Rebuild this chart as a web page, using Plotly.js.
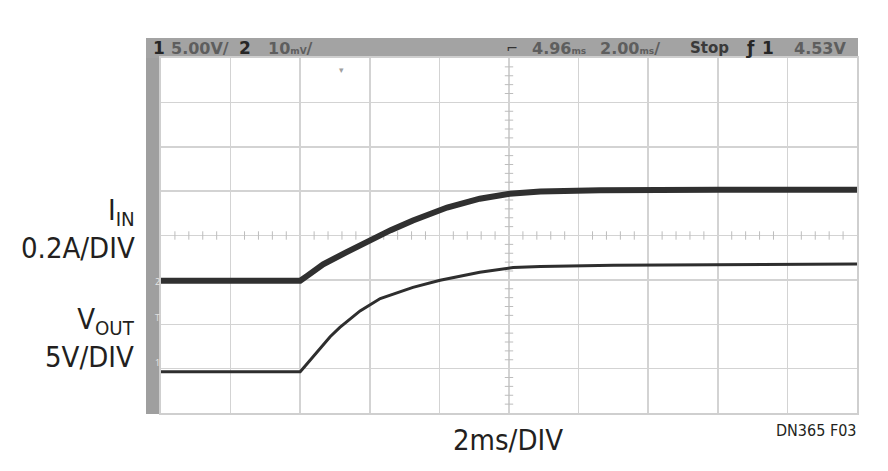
<!DOCTYPE html>
<html><head><meta charset="utf-8">
<script src="https://cdn.plot.ly/plotly-3.0.1.min.js"></script>
<style>html,body{margin:0;padding:0;background:#fff}#chart{width:888px;height:471px}</style>
</head><body><div id="chart"></div>
<script>
// time in divisions (2ms/DIV), values in vertical divisions from bottom of screen
const timeIin = [0, 2.00, 2.10, 2.20, 2.33, 2.66, 3.00, 3.30, 3.62, 4.11, 4.58, 5.01, 5.45, 6.31, 8.00, 10.00];
const iinDiv  = [2.98, 2.98, 3.09, 3.20, 3.35, 3.62, 3.89, 4.12, 4.34, 4.63, 4.83, 4.94, 4.99, 5.02, 5.03, 5.03];
const timeVout = [0, 2.00, 2.05, 2.14, 2.28, 2.43, 2.57, 2.86, 3.15, 3.62, 4.01, 4.58, 5.06, 5.45, 6.50, 8.00, 10.00];
const voutDiv  = [0.93, 0.93, 1.02, 1.19, 1.46, 1.72, 1.93, 2.30, 2.58, 2.83, 2.99, 3.17, 3.28, 3.30, 3.33, 3.35, 3.36];
const iinLabel = ["I<sub>IN</sub>", "0.2A/DIV"];
const voutLabel = ["V<sub>OUT</sub>", "5V/DIV"];
const xLabel = "2ms/DIV";
const figId = "DN365 F03";

const L = 161, R = 857, T = 58, B = 413;
const px = x => (x - L) / (R - L);
const py = y => (B - y) / (B - T);

// center-line minor tick positions (graticule decoration)
const hTickX = [], hTickY = [], vTickX = [], vTickY = [];
for (let k = 1; k < 50; k++) { if (k % 5) { hTickX.push(k * 0.2); hTickY.push(4); } }
for (let k = 1; k < 40; k++) { if (k % 5) { vTickY.push(k * 0.2); vTickX.push(5); } }

const FAM = "DejaVu Sans Condensed, Liberation Sans Narrow, sans-serif";
const labelFont = {family: FAM, size: 29, color: "#231f20"};
const hdrFont = {family: "DejaVu Sans, sans-serif", size: 16, color: "#5e5e5e", weight: "bold"};
const hdrBold = {family: "DejaVu Sans, sans-serif", size: 17, color: "#262626", weight: "bold"};

const traces = [
  {x: hTickX, y: hTickY, mode: "markers", hoverinfo: "skip",
   marker: {symbol: "line-ns", size: 6, line: {width: 1, color: "#bdbdbd"}}},
  {x: vTickX, y: vTickY, mode: "markers", hoverinfo: "skip",
   marker: {symbol: "line-ew", size: 6, line: {width: 1, color: "#bdbdbd"}}},
  {x: timeIin, y: iinDiv, mode: "lines", line: {color: "#303030", width: 6}},
  {x: timeVout, y: voutDiv, mode: "lines", line: {color: "#2e2e2e", width: 3}}
];

function hdr(text, x, font) {
  return {text: text, xref: "paper", yref: "paper", x: px(x), y: py(48), xanchor: "left", yanchor: "middle", showarrow: false, font: font || hdrFont};
}
function lbl(lines, y) {
  return {text: lines.join("<br>"), xref: "paper", yref: "paper", x: px(137), y: py(y), xanchor: "right", yanchor: "middle", align: "right", showarrow: false, font: labelFont};
}

const sm = s => "<span style='font-size:9px'>" + s + "</span>";

const annotations = [
  hdr("1", 151, hdrBold),
  hdr("5.00V/", 169),
  hdr("2", 237, hdrBold),
  hdr("10" + sm("mV") + "/", 266),
  hdr("⌐", 504, {family: "DejaVu Sans", size: 14, color: "#333"}),
  hdr("4.96" + sm("ms"), 530),
  hdr("2.00" + sm("ms") + "/", 598),
  hdr("Stop", 688, {family: "DejaVu Sans, sans-serif", size: 15, color: "#3a3a3a", weight: "bold"}),
  hdr("ƒ", 744, hdrBold),
  hdr("1", 760, hdrBold),
  hdr("4.53V", 792),
  {text: "▾", xref: "paper", yref: "paper", x: px(337), y: py(61), showarrow: false, font: {size: 9, color: "#a0a0a0"}},
  {text: "2", xref: "paper", yref: "paper", x: px(153), y: py(281), showarrow: false, font: {size: 9, color: "#e8e8e8"}},
  {text: "T", xref: "paper", yref: "paper", x: px(153), y: py(326), showarrow: false, font: {size: 9, color: "#e0e0e0"}},
  {text: "1", xref: "paper", yref: "paper", x: px(153), y: py(371), showarrow: false, font: {size: 9, color: "#e8e8e8"}},
  lbl(iinLabel, 229),
  lbl(voutLabel, 338),
  {text: xLabel, xref: "paper", yref: "paper", x: px(508), y: py(440), xanchor: "center", yanchor: "middle", showarrow: false, font: labelFont},
  {text: figId, xref: "paper", yref: "paper", x: px(858), y: py(430), xanchor: "right", yanchor: "middle", showarrow: false,
   font: {family: FAM, size: 16, color: "#231f20"}}
];

const shapes = [
  {type: "rect", xref: "paper", yref: "paper", x0: px(146), x1: px(858), y0: py(T), y1: py(38), fillcolor: "#a3a3a3", line: {width: 0}, layer: "below"},
  {type: "rect", xref: "paper", yref: "paper", x0: px(146), x1: px(L), y0: py(414), y1: py(T), fillcolor: "#9f9f9f", line: {width: 0}, layer: "below"}
];

const layout = {
  width: 888, height: 471,
  margin: {l: L, r: 888 - R, t: T, b: 471 - B, pad: 0},
  paper_bgcolor: "#ffffff", plot_bgcolor: "#ffffff",
  showlegend: false,
  xaxis: {range: [0, 10], dtick: 1, tick0: 0, showticklabels: false, ticks: "", zeroline: false,
          showgrid: true, gridcolor: "#d3d3d3", gridwidth: 1.5,
          showline: true, mirror: true, linecolor: "#cfcfcf", linewidth: 2, fixedrange: true},
  yaxis: {range: [0, 8], dtick: 1, tick0: 0, showticklabels: false, ticks: "", zeroline: false,
          showgrid: true, gridcolor: "#d3d3d3", gridwidth: 1.5,
          showline: true, mirror: true, linecolor: "#cfcfcf", linewidth: 2, fixedrange: true},
  annotations: annotations,
  shapes: shapes
};

Plotly.newPlot("chart", traces, layout, {displayModeBar: false, staticPlot: true});
</script>
</body></html>
